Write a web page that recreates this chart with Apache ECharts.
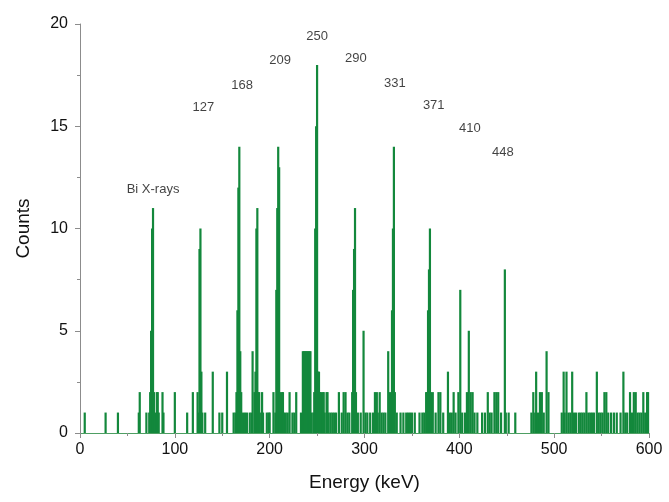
<!DOCTYPE html>
<html>
<head>
<meta charset="utf-8">
<script src="https://cdn.jsdelivr.net/npm/echarts@6/dist/echarts.min.js"></script>
<style>
html,body{margin:0;padding:0;background:#fff;}
#chart{width:669px;height:502px;}
</style>
</head>
<body>
<div id="chart"></div>
<script>
// Energy bins (keV) with non-zero counts, and their counts
const energies = [
  5,27,40,62,63,70,73,74,75,76,77,78,79,81,82,83,87,88,
  100,113,119,124,125,126,127,128,129,132,140,147,150,155,
  162,164,165,166,167,168,169,170,172,174,176,179,181,182,184,185,186,187,188,189,191,192,193,
  197,199,200,204,206,207,208,209,210,211,213,214,215,217,219,221,224,226,228,
  233,235,236,237,238,239,240,241,242,243,244,246,247,248,249,250,251,252,253,254,256,257,258,260,261,262,264,266,268,270,273,276,278,280,282,284,
  287,288,289,290,291,293,296,299,301,303,306,309,311,313,314,316,318,320,322,325,327,329,330,331,332,334,338,341,344,346,348,350,353,
  358,361,363,365,366,367,368,369,370,372,375,378,380,383,388,390,392,394,396,
  399,401,403,406,408,410,412,414,416,419,424,427,430,432,434,437,439,441,444,448,449,452,459,
  476,478,480,481,483,485,487,489,492,494,
  508,510,511,513,515,517,519,521,523,526,528,530,532,534,536,538,540,542,545,547,549,551,553,555,557,560,563,566,570,573,575,577,580,582,584,586,588,590,592,594,596,598,599
];
const counts = [
  1,1,1,1,2,1,1,2,5,10,11,2,1,2,2,1,2,1,
  2,1,2,2,1,9,10,3,1,1,3,1,1,3,
  1,1,2,6,12,14,4,2,1,1,1,1,1,4,2,3,10,11,2,2,1,2,1,
  1,1,1,2,1,7,11,14,13,2,2,2,1,1,1,2,1,1,2,
  1,4,4,4,4,4,4,4,4,4,1,1,2,10,15,18,3,3,2,2,2,2,1,2,2,1,1,1,1,1,2,1,2,2,1,1,
  2,7,9,11,2,1,1,5,1,1,1,1,2,2,1,2,1,1,1,4,2,6,10,14,2,1,1,1,1,1,1,1,1,
  1,1,1,2,2,6,8,10,2,2,1,2,2,1,3,1,1,2,1,
  2,7,1,1,2,5,2,2,1,1,1,1,2,1,1,2,2,2,1,8,1,1,1,
  1,2,1,3,1,2,2,1,4,2,
  1,3,1,3,1,1,3,1,1,1,1,1,1,2,1,1,1,1,3,1,1,1,2,2,1,1,1,1,1,3,1,1,2,1,2,2,1,1,1,2,1,2,2
];
// Peak annotations
const peakLabels = ['Bi X-rays','127','168','209','250','290','331','371','410','448'];
const peakLabelX = [77,130,171,211,250,291,332,373,411,446];
const peakLabelY = [11.9,15.9,17.0,18.2,19.4,18.3,17.1,16.0,14.9,13.7];
const xTicks = [0,100,200,300,400,500,600];
const yTicks = [0,5,10,15,20];

const hist = energies.map((e,i)=>[e, counts[i]]);

const font = "'Liberation Sans', Arial, Helvetica, sans-serif";
const axisGray = '#8c8c8c';
const chart = echarts.init(document.getElementById('chart'), null, {renderer:'canvas'});
chart.setOption({
  backgroundColor:'#ffffff',
  animation:false,
  grid:{left:80, right:20, top:24, bottom:69, containLabel:false},
  xAxis:{
    type:'value', min:xTicks[0], max:xTicks[xTicks.length-1], interval:100,
    name:'Energy (keV)', nameLocation:'middle', nameGap:40,
    nameTextStyle:{fontFamily:font, fontSize:19, color:'#111'},
    axisLine:{show:true, onZero:false, lineStyle:{color:'#4e9f63', width:1.2}},
    axisTick:{show:true, inside:false, length:5, lineStyle:{color:axisGray}},
    minorTick:{show:true, splitNumber:2, length:3, lineStyle:{color:axisGray}},
    axisLabel:{fontFamily:font, fontSize:16, color:'#111', margin:9},
    splitLine:{show:false}
  },
  yAxis:{
    type:'value', min:yTicks[0], max:yTicks[yTicks.length-1], interval:5,
    name:'Counts', nameLocation:'middle', nameGap:47, nameRotate:90,
    nameTextStyle:{fontFamily:font, fontSize:19, color:'#111'},
    axisLine:{show:true, lineStyle:{color:axisGray, width:1}},
    axisTick:{show:true, inside:false, length:5, lineStyle:{color:axisGray}},
    minorTick:{show:true, splitNumber:2, length:3, lineStyle:{color:axisGray}},
    axisLabel:{fontFamily:font, fontSize:16, color:'#111', margin:12},
    splitLine:{show:false}
  },
  series:[
    {
      type:'bar', data:hist, barWidth:2.2, barGap:'-100%',
      itemStyle:{color:'#13883c'},
      z:2
    },
    {
      type:'scatter', symbol:'circle', symbolSize:1,
      itemStyle:{color:'rgba(0,0,0,0)'},
      data:peakLabels.map((t,i)=>({name:t, value:[peakLabelX[i], peakLabelY[i]]})),
      label:{show:true, position:'inside', formatter:p=>p.name,
        fontFamily:font, fontSize:13, color:'#111'},
      z:3
    }
  ]
});
</script>
</body>
</html>
